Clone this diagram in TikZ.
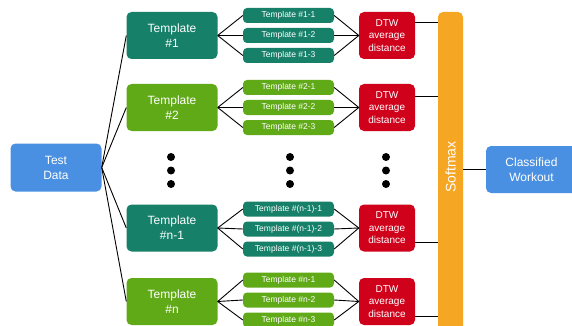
\documentclass[tikz,border=0pt]{standalone}
\usepackage{fontspec}
\setmainfont{Liberation Sans}

\definecolor{tealbox}{HTML}{168069}
\definecolor{greenbox}{HTML}{60A917}
\definecolor{redbox}{HTML}{D0021B}
\definecolor{orangebox}{HTML}{F5A623}
\definecolor{bluebox}{HTML}{4A90E2}

\tikzset{
    box/.style={rounded corners=5pt, text=white, align=center, inner sep=0pt},
    iobox/.style={box, fill=bluebox, minimum width=91pt, minimum height=48pt, font=\fontsize{12}{15}\selectfont},
    tmpl/.style={box, minimum width=91pt, minimum height=47pt, font=\fontsize{12}{15}\selectfont},
    sub/.style={box, rounded corners=4pt, minimum width=91pt, minimum height=15pt, font=\fontsize{8.5}{10}\selectfont},
    dtw/.style={box, fill=redbox, minimum width=56pt, minimum height=47pt, font=\fontsize{10}{12.5}\selectfont},
    dot/.style={circle, fill=black, minimum size=8pt, inner sep=0pt},
    link/.style={black, line width=0.9pt},
  }

\begin{document}
\begin{tikzpicture}[x=1pt, y=-1pt]

\clip (0,0) rectangle (572,326);

% input and output
  \node[iobox] (data) at (56,167.5) {Test\\Data};
  \node[iobox, minimum height=47pt] (result) at (531.5,169.5) {Classified\\Workout};

% softmax bar
  \node[box, fill=orangebox, minimum width=25pt, minimum height=328pt] (softmax) at (450.5,176) {};
  \node[rotate=90, text=white, font=\fontsize{14}{16}\selectfont] (softmaxtext) at (450.5,167) {Softmax};

% template #1
  \node[tmpl, fill=tealbox] (tmpl1) at (172,35.5) {Template\\\#1};
  \node[sub, fill=tealbox] (sub11) at (288.5,15.5) {Template \#1-1};
  \node[sub, fill=tealbox] (sub12) at (288.5,35.5) {Template \#1-2};
  \node[sub, fill=tealbox] (sub13) at (288.5,55.5) {Template \#1-3};
  \node[dtw] (dtw1) at (387,35.5) {DTW\\average\\distance};

% template #2
  \node[tmpl, fill=greenbox] (tmpl2) at (172,107.5) {Template\\\#2};
  \node[sub, fill=greenbox] (sub21) at (288.5,87.5) {Template \#2-1};
  \node[sub, fill=greenbox] (sub22) at (288.5,107.5) {Template \#2-2};
  \node[sub, fill=greenbox] (sub23) at (288.5,127.5) {Template \#2-3};
  \node[dtw] (dtw2) at (387,107.5) {DTW\\average\\distance};

% dots in between
  \node[dot] (dots11) at (171,157) {};
  \node[dot] (dots12) at (171,170.5) {};
  \node[dot] (dots13) at (171,184) {};
  \node[dot] (dots21) at (290,157) {};
  \node[dot] (dots22) at (290,170.5) {};
  \node[dot] (dots23) at (290,184) {};
  \node[dot] (dots31) at (386,157) {};
  \node[dot] (dots32) at (386,170.5) {};
  \node[dot] (dots33) at (386,184) {};

% template #n-1
  \node[tmpl, fill=tealbox] (tmpl3) at (172,228) {Template\\\#n-1};
  \node[sub, fill=tealbox] (sub31) at (288.5,209) {Template \#(n-1)-1};
  \node[sub, fill=tealbox] (sub32) at (288.5,229) {Template \#(n-1)-2};
  \node[sub, fill=tealbox] (sub33) at (288.5,249) {Template \#(n-1)-3};
  \node[dtw] (dtw3) at (387,228) {DTW\\average\\distance};

% template #n
  \node[tmpl, fill=greenbox] (tmpl4) at (172,301.5) {Template\\\#n};
  \node[sub, fill=greenbox] (sub41) at (288.5,280) {Template \#n-1};
  \node[sub, fill=greenbox] (sub42) at (288.5,300) {Template \#n-2};
  \node[sub, fill=greenbox] (sub43) at (288.5,320) {Template \#n-3};
  \node[dtw] (dtw4) at (387,301.5) {DTW\\average\\distance};

% test data to templates
  \draw[link] (data.east) -- (tmpl1.west);
  \draw[link] (data.east) -- (tmpl2.west);
  \draw[link] (data.east) -- (tmpl3.west);
  \draw[link] (data.east) -- (tmpl4.west);

% templates to sub templates to dtw
  \draw[link] (tmpl1.east) -- (sub11.west);  \draw[link] (sub11.east) -- (dtw1.west);
  \draw[link] (tmpl1.east) -- (sub12.west);  \draw[link] (sub12.east) -- (dtw1.west);
  \draw[link] (tmpl1.east) -- (sub13.west);  \draw[link] (sub13.east) -- (dtw1.west);

  \draw[link] (tmpl2.east) -- (sub21.west);  \draw[link] (sub21.east) -- (dtw2.west);
  \draw[link] (tmpl2.east) -- (sub22.west);  \draw[link] (sub22.east) -- (dtw2.west);
  \draw[link] (tmpl2.east) -- (sub23.west);  \draw[link] (sub23.east) -- (dtw2.west);

  \draw[link] (tmpl3.east) -- (sub31.west);  \draw[link] (sub31.east) -- (dtw3.west);
  \draw[link] (tmpl3.east) -- (sub32.west);  \draw[link] (sub32.east) -- (dtw3.west);
  \draw[link] (tmpl3.east) -- (sub33.west);  \draw[link] (sub33.east) -- (dtw3.west);

  \draw[link] (tmpl4.east) -- (sub41.west);  \draw[link] (sub41.east) -- (dtw4.west);
  \draw[link] (tmpl4.east) -- (sub42.west);  \draw[link] (sub42.east) -- (dtw4.west);
  \draw[link] (tmpl4.east) -- (sub43.west);  \draw[link] (sub43.east) -- (dtw4.west);

% dtw to softmax to result
  \draw[link] ([yshift=13.5pt]dtw1.east) -- ([yshift=13.5pt]dtw1.east -| softmax.west);
  \draw[link] ([yshift=11.5pt]dtw2.east) -- ([yshift=11.5pt]dtw2.east -| softmax.west);
  \draw[link] ([yshift=-14pt]dtw3.east) -- ([yshift=-14pt]dtw3.east -| softmax.west);
  \draw[link] ([yshift=-14.5pt]dtw4.east) -- ([yshift=-14.5pt]dtw4.east -| softmax.west);
  \draw[link] (result.west -| softmax.east) -- (result.west);

\end{tikzpicture}
\end{document}
